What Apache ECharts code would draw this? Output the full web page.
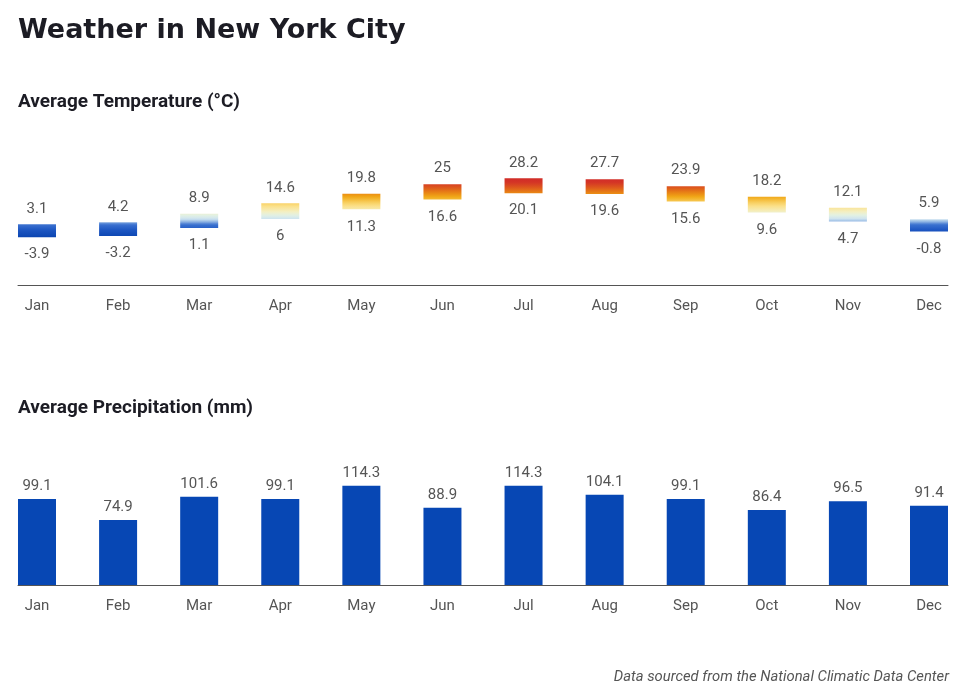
<!DOCTYPE html>
<html>
<head>
<meta charset="utf-8">
<script src="https://cdn.jsdelivr.net/npm/echarts@6/dist/echarts.min.js"></script>
<style>
  html, body { margin: 0; padding: 0; background: #fff; }
  #chart { width: 964px; height: 694px; }
</style>
</head>
<body>
<div id="chart"></div>
<script>
  var months = ['Jan', 'Feb', 'Mar', 'Apr', 'May', 'Jun', 'Jul', 'Aug', 'Sep', 'Oct', 'Nov', 'Dec']
  var tempHigh = [3.1, 4.2, 8.9, 14.6, 19.8, 25, 28.2, 27.7, 23.9, 18.2, 12.1, 5.9]
  var tempLow = [-3.9, -3.2, 1.1, 6, 11.3, 16.6, 20.1, 19.6, 15.6, 9.6, 4.7, -0.8]
  var precip = [99.1, 74.9, 101.6, 99.1, 114.3, 88.9, 114.3, 104.1, 99.1, 86.4, 96.5, 91.4]

  // temperature -> colour ramp used for the bar gradients
  var ramp = [
    [-4, '#0a44b0'], [0, '#1d56c2'], [3, '#3c72d0'], [4.5, '#8fb4e3'], [6, '#cde3f0'],
    [8, '#e2f1e4'], [10, '#f4efc2'], [13, '#fbe08a'], [15, '#f8cf60'], [18, '#f1aa18'],
    [20, '#ea8a14'], [23, '#de5a1c'], [26, '#d43426'], [29, '#d02a28']
  ]
  function tempColor (t) {
    if (t <= ramp[0][0]) return ramp[0][1]
    for (var k = 1; k < ramp.length; k++) {
      if (t <= ramp[k][0]) {
        var f = (t - ramp[k - 1][0]) / (ramp[k][0] - ramp[k - 1][0])
        return echarts.color.lerp(f, [ramp[k - 1][1], ramp[k][1]])
      }
    }
    return ramp[ramp.length - 1][1]
  }
  function gradientFor (lo, hi) {
    var stops = []
    for (var s = 0; s <= 10; s++) {
      var f = s / 10
      stops.push({ offset: f, color: tempColor(hi - (hi - lo) * f) })
    }
    return new echarts.graphic.LinearGradient(0, 0, 0, 1, stops)
  }

  var xMin = -0.2343
  var xMax = 11.2343
  var labelColor = '#555'
  var font = 'Roboto'

  function xAxisFor (gridIndex) {
    return {
      type: 'value',
      gridIndex: gridIndex,
      min: xMin,
      max: xMax,
      splitLine: { show: false },
      axisLine: { show: true, onZero: false, lineStyle: { color: '#555', width: 1 } },
      axisTick: { show: false },
      axisLabel: {
        customValues: months.map(function (m, i) { return i }),
        formatter: function (v) { return months[Math.round(v)] || '' },
        color: labelColor,
        fontFamily: font,
        fontSize: 15,
        margin: 14
      }
    }
  }

  var tempData = months.map(function (m, i) { return [i, tempLow[i], tempHigh[i]] })
  var precipData = months.map(function (m, i) { return [i, precip[i]] })

  function renderRange (params, api) {
    var i = api.value(0)
    var lo = api.value(1)
    var hi = api.value(2)
    var pLo = api.coord([i, lo])
    var pHi = api.coord([i, hi])
    var w = 38
    var textStyle = { fill: labelColor, fontFamily: font, fontSize: 15, align: 'center' }
    return {
      type: 'group',
      children: [
        {
          type: 'rect',
          shape: { x: pHi[0] - w / 2, y: pHi[1], width: w, height: pLo[1] - pHi[1] },
          style: { fill: gradientFor(lo, hi) }
        },
        {
          type: 'text',
          x: pHi[0],
          y: pHi[1] - 8,
          style: Object.assign({ text: String(hi), verticalAlign: 'bottom' }, textStyle)
        },
        {
          type: 'text',
          x: pLo[0],
          y: pLo[1] + 10,
          style: Object.assign({ text: String(lo), verticalAlign: 'top' }, textStyle)
        }
      ]
    }
  }

  var chart = echarts.init(document.getElementById('chart'))
  chart.setOption({
    animation: false,
    backgroundColor: '#fff',
    title: [
      {
        text: 'Weather in New York City',
        left: 18, top: 17, padding: 0,
        textStyle: { fontFamily: 'DejaVu Sans', fontWeight: 'bold', fontSize: 27, color: '#1c1c24' }
      },
      {
        text: 'Average Temperature (°C)',
        left: 18, top: 93, padding: 0,
        textStyle: { fontFamily: font, fontWeight: 'bold', fontSize: 19, color: '#1c1c24' }
      },
      {
        text: 'Average Precipitation (mm)',
        left: 18, top: 399, padding: 0,
        textStyle: { fontFamily: font, fontWeight: 'bold', fontSize: 19, color: '#1c1c24' }
      },
      {
        text: 'Data sourced from the National Climatic Data Center',
        right: 15, top: 670, padding: 0,
        textStyle: { fontFamily: font, fontStyle: 'italic', fontWeight: 'normal', fontSize: 14.8, color: '#555' }
      }
    ],
    grid: [
      { left: 18, right: 16, top: 156.7, height: 128.3 },
      { left: 18, right: 16, top: 454.8, height: 130.2 }
    ],
    xAxis: [xAxisFor(0), xAxisFor(1)],
    yAxis: [
      { type: 'value', gridIndex: 0, min: -30, max: 40, show: false },
      { type: 'value', gridIndex: 1, min: 0, max: 150, show: false }
    ],
    series: [
      {
        type: 'custom',
        xAxisIndex: 0,
        yAxisIndex: 0,
        renderItem: renderRange,
        encode: { x: 0, y: [1, 2] },
        data: tempData
      },
      {
        type: 'bar',
        xAxisIndex: 1,
        yAxisIndex: 1,
        barWidth: 38,
        itemStyle: { color: '#0747b4' },
        label: {
          show: true,
          position: 'top',
          distance: 5,
          color: labelColor,
          fontFamily: font,
          fontSize: 15
        },
        data: precipData
      }
    ]
  })
</script>
</body>
</html>
